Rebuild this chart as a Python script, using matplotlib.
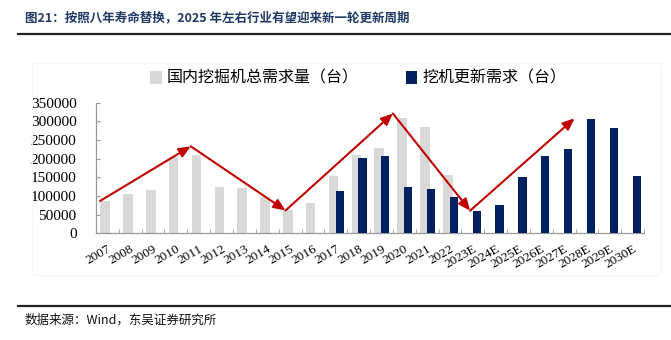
import numpy as np
import matplotlib.pyplot as plt
from matplotlib.patches import Rectangle
from matplotlib.lines import Line2D

plt.rcParams['font.family'] = ['Noto Sans CJK SC', 'DejaVu Sans']

years = ['2007', '2008', '2009', '2010', '2011', '2012', '2013', '2014',
         '2015', '2016', '2017', '2018', '2019', '2020', '2021', '2022',
         '2023E', '2024E', '2025E', '2026E', '2027E', '2028E', '2029E', '2030E']

# 国内挖掘机总需求量（台），2007-2022
total_demand = [87000, 105000, 117000, 205000, 210000, 125000, 122000, 98000,
                62500, 80000, 153500, 210000, 228500, 310000, 285000, 157000]

# 挖机更新需求（台），2017-2030E
renewal_demand = [114000, 202500, 207000, 123000, 119500, 97000,
                  60500, 77000, 151000, 206000, 227000, 307000, 282000, 154500]
renewal_start = 10

# 周期示意箭头（类目位置, 台）
cycle_x = [-0.32, 3.65, 7.8, 12.5, 15.88, 20.45]
cycle_y = [86500, 233000, 61000, 321000, 60500, 308000]

gray = '#D9D9D9'
navy = '#002060'
red = '#C00000'
serif = ['Liberation Serif', 'DejaVu Serif']

fig = plt.figure(figsize=(6.71, 3.40), dpi=100)
ax = fig.add_axes([0.143, 0.314, 0.817, 0.384])

x = np.arange(len(years))
ax.bar(x[:len(total_demand)] - 0.1, total_demand, width=0.42, color=gray,
       label='国内挖掘机总需求量（台）', zorder=2)
ax.bar(x[renewal_start:] + 0.17, renewal_demand, width=0.36, color=navy,
       label='挖机更新需求（台）', zorder=3)

for i in range(len(cycle_x) - 1):
    ax.annotate('', xy=(cycle_x[i + 1], cycle_y[i + 1]), xytext=(cycle_x[i], cycle_y[i]),
                arrowprops=dict(arrowstyle='-|>,head_length=0.7,head_width=0.3',
                                color=red, lw=1.5, shrinkA=0, shrinkB=0),
                zorder=4)

ax.set_xlim(-0.5, len(years) - 0.5)
ax.set_ylim(0, 350000)
ax.set_yticks(np.arange(0, 350001, 50000))
ax.set_yticklabels([str(v) for v in range(0, 350001, 50000)], family=serif, fontsize=11)
ax.set_xticks(x)
ax.set_xticklabels(years, rotation=30, ha='right', rotation_mode='anchor',
                   family=serif, fontsize=9.5)
ax.tick_params(axis='x', which='major', length=0, pad=7)
ax.set_xticks(np.arange(-0.5, len(years), 1), minor=True)
ax.tick_params(axis='x', which='minor', direction='in', length=3, color='#999999')
ax.tick_params(axis='y', direction='in', length=3, color='#999999', pad=14)
for lbl in ax.get_xticklabels():
    lbl.set_x(lbl.get_position()[0] - 0.2)

for side in ['top', 'right']:
    ax.spines[side].set_visible(False)
for side in ['left', 'bottom']:
    ax.spines[side].set_color('#999999')
    ax.spines[side].set_linewidth(0.9)

ax.legend(loc='center', bbox_to_anchor=(0.534, 0.77), bbox_transform=fig.transFigure,
          ncol=2, frameon=False, fontsize=11.5, handlelength=0.7, handleheight=0.9,
          handletextpad=0.3, columnspacing=3.0)

# 外框与标题、来源
fig.patches.append(Rectangle((0.048, 0.19), 0.935, 0.625, transform=fig.transFigure,
                             fill=False, edgecolor='#F6F6F6', lw=0.8, zorder=0))
fig.text(0.037, 0.948, '图21：按照八年寿命替换，2025 年左右行业有望迎来新一轮更新周期',
         fontsize=9, fontweight='bold', color='#1F3864', va='center')
fig.add_artist(Line2D([0.027, 1.0], [0.9, 0.9], transform=fig.transFigure,
                      color='#222222', lw=1.6))
fig.add_artist(Line2D([0.027, 1.0], [0.1, 0.1], transform=fig.transFigure,
                      color='#222222', lw=1.6))
fig.text(0.037, 0.057, '数据来源：Wind，东吴证券研究所', fontsize=9, color='#111111',
         va='center')

fig.savefig('out.png', dpi=100)
